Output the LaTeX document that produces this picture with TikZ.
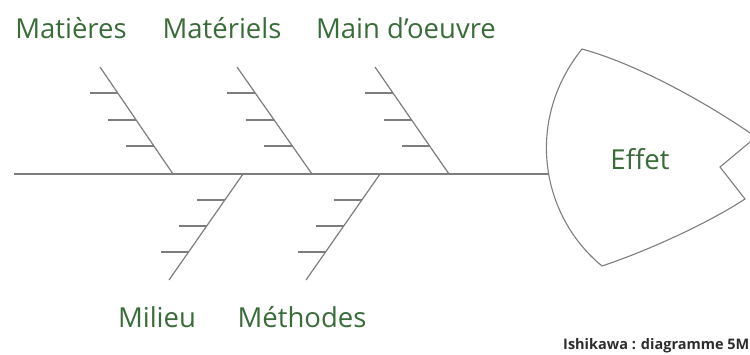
\documentclass[tikz,border=0pt]{standalone}
\usepackage{fontspec}
\setmainfont{Open Sans}
\definecolor{lbl}{RGB}{58,108,58}
\definecolor{bone}{RGB}{125,125,125}
\definecolor{cap}{RGB}{45,45,45}
\begin{document}
\begin{tikzpicture}[x=1pt,y=-1pt,
  boneline/.style={draw=bone,line width=1.2pt},
  lab/.style={text=lbl,font=\fontsize{27.5}{32}\selectfont,anchor=base,inner sep=0pt},
  caption/.style={text=cap,font=\fontsize{14.5}{17}\selectfont\bfseries,anchor=base west,inner sep=0pt}]
\useasboundingbox (0,0) rectangle (750,354);
\clip (0,0) rectangle (750,354);
% spine
\coordinate (tail) at (14,174);
\coordinate (head) at (548,174);
\draw[boneline] (tail) -- (head);
% top bones
\foreach \n/\tx/\bx in {a/100/173, b/237/312, c/375/449}{
  \coordinate (\n top) at (\tx,67);
  \coordinate (\n bot) at (\bx,174);
  \draw[boneline] (\n top) -- (\n bot);
  \foreach \y in {93,120,146}{
    \path (\n top) -- (\n bot) coordinate[pos={(\y-67)/107}] (\n t\y);
    \draw[boneline] (\n t\y) -- ++(-28,0);
  }
}
% bottom bones
\foreach \n/\tx/\bx in {d/243/169, e/380/306}{
  \coordinate (\n top) at (\tx,174);
  \coordinate (\n bot) at (\bx,280);
  \draw[boneline] (\n top) -- (\n bot);
  \foreach \y in {200,226,252}{
    \path (\n top) -- (\n bot) coordinate[pos={(\y-174)/106}] (\n t\y);
    \draw[boneline] (\n t\y) -- ++(-28,0);
  }
}
% head (Effet)
\draw[draw=bone,line width=1.1pt,fill=white]
  (582,49) .. controls (640,65) and (710,105) .. (756,137)
  -- (720,167) -- (745,199)
  .. controls (710,222) and (650,250) .. (602,266)
  .. controls (540,215) and (525,120) .. (582,49) -- cycle;
\node[lab] (effet) at (640,169) {Effet};
% labels
\node[lab] (matieres) at (71,38) {Matières};
\node[lab] (materiels) at (222,38) {Matériels};
\node[lab] (main) at (406,38) {Main d’oeuvre};
\node[lab] (milieu) at (157,327) {Milieu};
\node[lab] (methodes) at (302,327) {Méthodes};
\node[caption] (title) at (563,349) {Ishikawa : diagramme 5M};
\end{tikzpicture}
\end{document}
